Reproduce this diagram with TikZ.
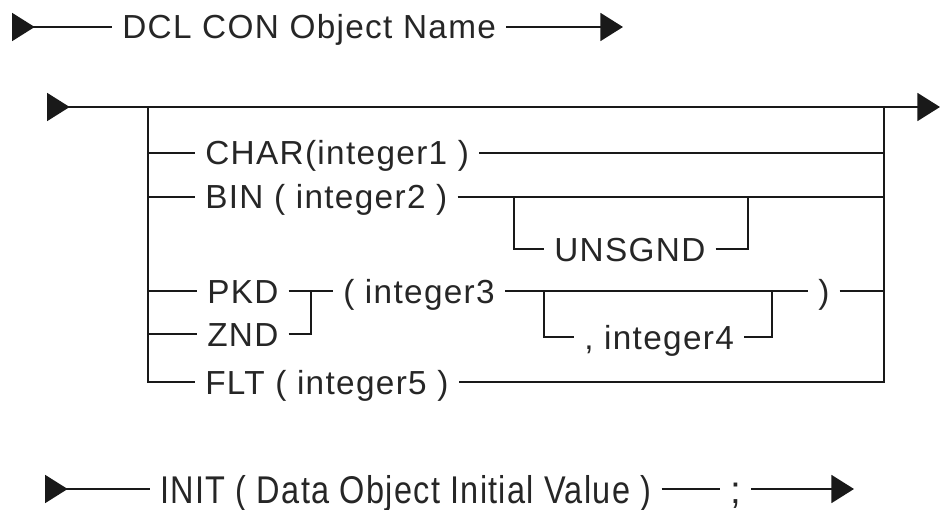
\documentclass[tikz,border=0pt]{standalone}
\usepackage{fontspec}
\setmainfont{Liberation Sans}[LetterSpace=4]
\usetikzlibrary{arrows.meta}

\tikzset{
  syn/.style={font=\fontsize{25}{30}\selectfont, text=black!85, anchor=west,
    inner xsep=7.5pt, inner ysep=0pt, text height=18pt, text depth=0pt},
  bigsyn/.style={syn, font=\fontsize{29}{34}\selectfont, text height=21pt},
  rail/.style={line width=1.5pt, draw=black!90},
  tipin/.style={{Triangle[reversed,length=17pt,width=21pt]}-},
  tipout/.style={-{Triangle[length=17pt,width=21pt]}},
  tipboth/.style={{Triangle[reversed,length=17pt,width=21pt]}-{Triangle[length=17pt,width=21pt]}},
}

\begin{document}
\begin{tikzpicture}[x=0.75pt, y=-0.75pt]
\useasboundingbox (0,0) rectangle (940,510);

% first line
\coordinate (topL) at (12,27);
    \coordinate (topR) at (623,27);
    \node[syn] (dcl) at (112,27) {DCL CON Object Name};
    \draw[rail, tipin] (topL) -- (dcl);
    \draw[rail, tipout] (dcl) -- (topR);

% main rail and the two buses
\coordinate (mainL) at (47,107);
    \coordinate (mainR) at (940,107);
    \coordinate (lbus) at (148,107);
    \coordinate (rbus) at (884,107);
    \draw[rail, tipboth] (mainL) -- (mainR);

    \node[syn] (char) at (195,153) {CHAR(integer1 )};
    \node[syn] (bin) at (195,197) {BIN ( integer2 )};
    \node[syn] (unsgnd) at (544,249) {UNSGND};
    \node[syn] (pkd) at (197,291) {PKD};
    \node[syn] (znd) at (197,334) {ZND};
    \node[syn] (int3) at (333,291) {( integer3};
    \node[syn] (int4) at (574,337) {, integer4};
    \node[syn] (rpar) at (808,291) {)};
    \node[syn] (flt) at (195,382) {FLT ( integer5 )};

    \draw[rail] (lbus) |- (flt);
    \draw[rail] (rbus) |- (flt);
    \draw[rail] (char.west -| lbus) -- (char);
    \draw[rail] (char) -- (char.east -| rbus);
    \draw[rail] (bin.west -| lbus) -- (bin);
    \draw[rail] (bin) -- (bin.east -| rbus);
    \draw[rail] (pkd.west -| lbus) -- (pkd);
    \draw[rail] (znd.west -| lbus) -- (znd);

    \coordinate (ua) at (514,197);
    \coordinate (ub) at (748,197);
    \draw[rail] (ua) |- (unsgnd) -| (ub);

    \coordinate (pj) at (311,291);
    \draw[rail] (pkd) -- (int3);
    \draw[rail] (znd) -| (pj);

    \coordinate (c4a) at (544,291);
    \coordinate (c4b) at (772,291);
    \draw[rail] (int3) -- (rpar);
    \draw[rail] (c4a) |- (int4) -| (c4b);
    \draw[rail] (rpar) -- (rpar.east -| rbus);

% last line
\coordinate (initL) at (45,489);
    \coordinate (initR) at (854,489);
    \node[bigsyn] (init) at (150,489) {\scalebox{0.84}[1]{INIT ( Data Object Initial Value )}};
    \node[bigsyn] (semi) at (720,489) {;};
    \draw[rail, tipin] (initL) -- (init);
    \draw[rail] (init) -- (semi);
    \draw[rail, tipout] (semi) -- (initR);
\end{tikzpicture}
\end{document}
